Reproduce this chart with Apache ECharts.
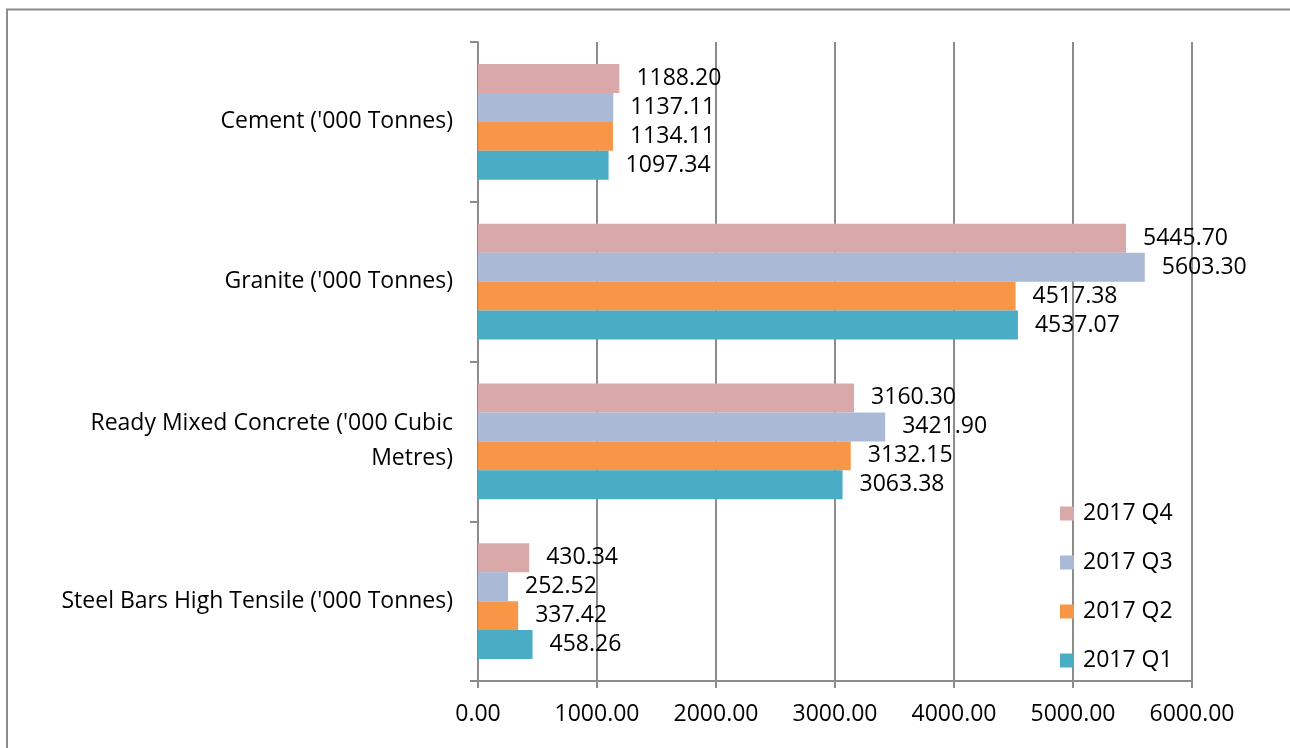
<!DOCTYPE html>
<html>
<head>
<meta charset="utf-8">
<script src="https://cdn.jsdelivr.net/npm/echarts@6/dist/echarts.min.js"></script>
<style>
html,body{margin:0;padding:0;background:#fff;}
#chart{width:1290px;height:748px;}
</style>
</head>
<body>
<div id="chart"></div>
<script>
const categories = ["Cement ('000 Tonnes)", "Granite ('000 Tonnes)", "Ready Mixed Concrete ('000 Cubic Metres)", "Steel Bars High Tensile ('000 Tonnes)"];
const seriesNames = ["2017 Q4", "2017 Q3", "2017 Q2", "2017 Q1"];
const q4 = [1188.20, 5445.70, 3160.30, 430.34];
const q3 = [1137.11, 5603.30, 3421.90, 252.52];
const q2 = [1134.11, 4517.38, 3132.15, 337.42];
const q1 = [1097.34, 4537.07, 3063.38, 458.26];
const colors = ['#D9A9A9', '#AAB9D6', '#F79646', '#4BACC6'];
const FONT = "'Open Sans', sans-serif";
const CAT_FONT_SIZE = 23;
const CAT_MAX_W = 405;

const measureCtx = document.createElement('canvas').getContext('2d');
measureCtx.font = CAT_FONT_SIZE + "px 'Open Sans'";
function wrap(text) {
  const words = text.split(' ');
  const lines = [];
  let cur = '';
  words.forEach(w => {
    const trial = cur ? cur + ' ' + w : w;
    if (cur && measureCtx.measureText(trial).width > CAT_MAX_W) {
      lines.push(cur);
      cur = w;
    } else {
      cur = trial;
    }
  });
  if (cur) lines.push(cur);
  return lines.join('\n');
}

const chart = echarts.init(document.getElementById('chart'), null, {renderer: 'canvas'});
const data = [q4, q3, q2, q1];
const series = data.map((d, i) => ({
  name: seriesNames[i],
  type: 'bar',
  data: d,
  barGap: '0%',
  barCategoryGap: '27.5%',
  itemStyle: {color: colors[i]},
  label: {
    show: true,
    position: 'right',
    distance: 17,
    formatter: p => p.value.toFixed(2),
    fontFamily: FONT,
    fontSize: 23,
    color: '#000'
  }
}));

chart.setOption({
  animation: false,
  textStyle: {fontFamily: FONT},
  graphic: [{
    type: 'rect',
    shape: {x: 7, y: 9.5, width: 1300, height: 800},
    style: {fill: 'none', stroke: '#8c8c8c', lineWidth: 2},
    silent: true
  }],
  grid: {left: 478, right: 98, top: 42, bottom: 67, containLabel: false},
  legend: {
    orient: 'vertical',
    left: 1060,
    top: 502,
    icon: 'rect',
    itemWidth: 14,
    itemHeight: 14,
    itemGap: 26,
    padding: 0,
    data: seriesNames,
    textStyle: {fontFamily: FONT, fontSize: 23, color: '#000', padding: [0, 0, 0, 4]}
  },
  xAxis: {
    type: 'value',
    min: 0,
    max: 6000,
    interval: 1000,
    axisLine: {show: true, lineStyle: {color: '#8c8c8c', width: 2}},
    axisTick: {show: true, length: 7, lineStyle: {color: '#8c8c8c', width: 2}},
    splitLine: {show: true, lineStyle: {color: '#8c8c8c', width: 2}},
    axisLabel: {
      formatter: v => v.toFixed(2),
      fontFamily: FONT,
      fontSize: 23,
      color: '#000',
      margin: 22
    }
  },
  yAxis: {
    type: 'category',
    inverse: true,
    data: categories,
    axisLine: {show: true, lineStyle: {color: '#8c8c8c', width: 2}},
    axisTick: {show: true, length: 8, lineStyle: {color: '#8c8c8c', width: 2}},
    axisLabel: {
      formatter: v => wrap(v),
      fontFamily: FONT,
      fontSize: CAT_FONT_SIZE,
      color: '#000',
      margin: 25,
      lineHeight: 35,
      align: 'right'
    }
  },
  series: series
});
</script>
</body>
</html>
